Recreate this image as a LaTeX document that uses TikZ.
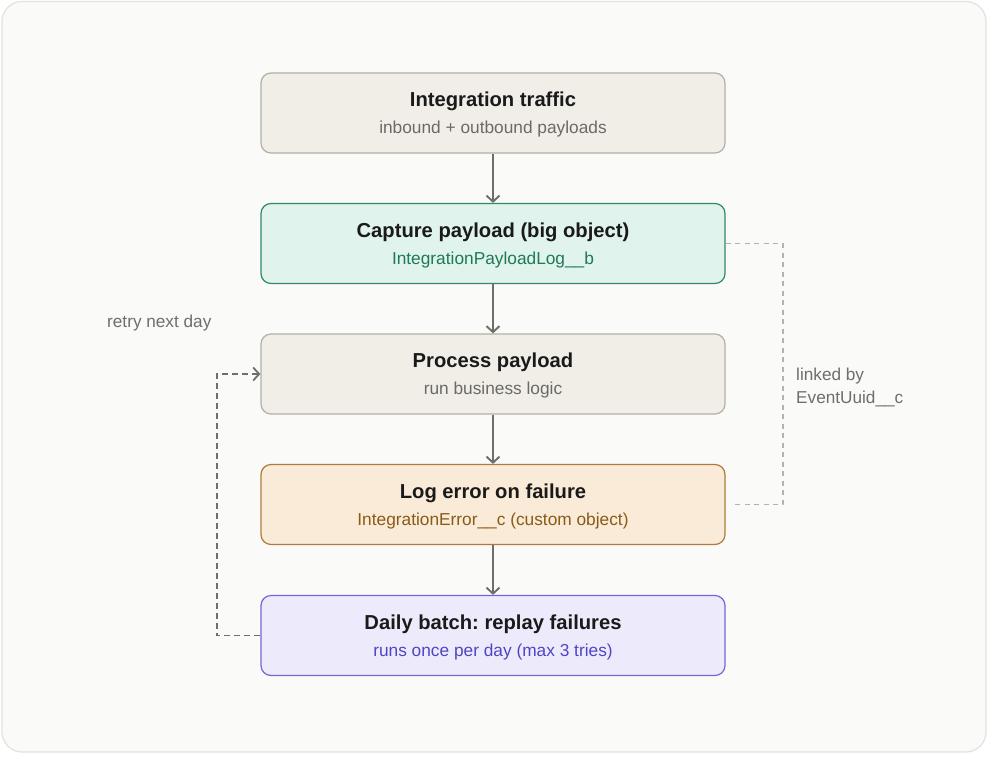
\documentclass[tikz,border=0pt]{standalone}
\usepackage{fontspec}
\setmainfont{Liberation Sans}
\usetikzlibrary{arrows.meta}
\frenchspacing
\definecolor{framebg}{HTML}{FAFAF8}
\definecolor{frameline}{HTML}{E4E2DC}
\definecolor{greyfill}{HTML}{F1EEE8}
\definecolor{greyline}{HTML}{B3AFA8}
\definecolor{greenfill}{HTML}{E0F3EC}
\definecolor{greenline}{HTML}{2F8A68}
\definecolor{greentext}{HTML}{1E7A55}
\definecolor{orangefill}{HTML}{FAEBD8}
\definecolor{orangeline}{HTML}{B07A3C}
\definecolor{orangetext}{HTML}{8A5A18}
\definecolor{violetfill}{HTML}{EDEBFB}
\definecolor{violetline}{HTML}{7068D8}
\definecolor{violettext}{HTML}{4F45C6}
\definecolor{titletext}{HTML}{1A1A1A}
\definecolor{subtext}{HTML}{6A6A66}
\definecolor{arrowcol}{HTML}{6E6E6A}
\definecolor{lightdash}{HTML}{B4B2AD}
\definecolor{notecol}{HTML}{6E6E6A}
\tikzset{
  stepbox/.style={draw, rounded corners=10pt, line width=1.2pt, minimum width=464pt, minimum height=80pt, inner sep=0pt},
  ttl/.style={font=\fontsize{20.2}{23}\selectfont\bfseries, text=titletext, inner sep=0pt},
  sub/.style={font=\fontsize{17.3}{20}\selectfont, inner sep=0pt},
  flow/.style={draw=arrowcol, line width=1.9pt, -{Straight Barb[length=6pt,width=13pt,line width=1.9pt]}},
  retry/.style={draw=arrowcol, line width=1.8pt, dash pattern=on 6pt off 4pt, -{Straight Barb[length=6pt,width=13pt,line width=1.8pt]}},
  link/.style={draw=lightdash, line width=1.5pt, dash pattern=on 5pt off 4.5pt},
  note/.style={font=\fontsize{17.2}{20}\selectfont, text=notecol, inner sep=0pt, anchor=west}
}
\begin{document}
\begin{tikzpicture}[x=1pt,y=-1pt]
\useasboundingbox (0,0) rectangle (1000,768);
\fill[white] (0,0) rectangle (1000,768);
\draw[fill=framebg, draw=frameline, line width=1.2pt, rounded corners=20pt] (2,1.5) rectangle (986,752);

\node[stepbox, fill=greyfill, draw=greyline] (b1) at (493,113) {};
\node[stepbox, fill=greenfill, draw=greenline] (b2) at (493,243.5) {};
\node[stepbox, fill=greyfill, draw=greyline] (b3) at (493,374) {};
\node[stepbox, fill=orangefill, draw=orangeline] (b4) at (493,504.5) {};
\node[stepbox, fill=violetfill, draw=violetline] (b5) at (493,635.5) {};

\node[ttl] (t1) at ([yshift=11.5pt]b1.center) {Integration traffic};
\node[sub, text=subtext] (s1) at ([yshift=-16.5pt]b1.center) {inbound + outbound payloads};
\node[ttl] (t2) at ([yshift=11.5pt]b2.center) {Capture payload (big object)};
\node[sub, text=greentext] (s2) at ([yshift=-16.5pt]b2.center) {IntegrationPayloadLog\_\_b};
\node[ttl] (t3) at ([yshift=11.5pt]b3.center) {Process payload};
\node[sub, text=subtext] (s3) at ([yshift=-16.5pt]b3.center) {run business logic};
\node[ttl] (t4) at ([yshift=11.5pt]b4.center) {Log error on failure};
\node[sub, text=orangetext] (s4) at ([yshift=-16.5pt]b4.center) {IntegrationError\_\_c (custom object)};
\node[ttl] (t5) at ([yshift=11.5pt]b5.center) {Daily batch: replay failures};
\node[sub, text=violettext] (s5) at ([yshift=-16.5pt]b5.center) {runs once per day (max 3 tries)};

\draw[flow] (b1.south) -- (b2.north);
\draw[flow] (b2.south) -- (b3.north);
\draw[flow] (b3.south) -- (b4.north);
\draw[flow] (b4.south) -- (b5.north);

\coordinate (lx) at (217,0);
\draw[retry] (b5.west) -- (lx |- b5.west) -- (lx |- b3.west) -- (b3.west);
\node[note] (rn) at (107,323) {retry next day};

\coordinate (rx) at (783,0);
\draw[link] (b2.east) -- (rx |- b2.east) -- (rx |- b4.east) -- ([xshift=8pt]b4.east);
\node[note] (ln1) at (796,376) {linked by};
\node[note] (ln2) at (796,399) {EventUuid\_\_c};
\end{tikzpicture}
\end{document}
